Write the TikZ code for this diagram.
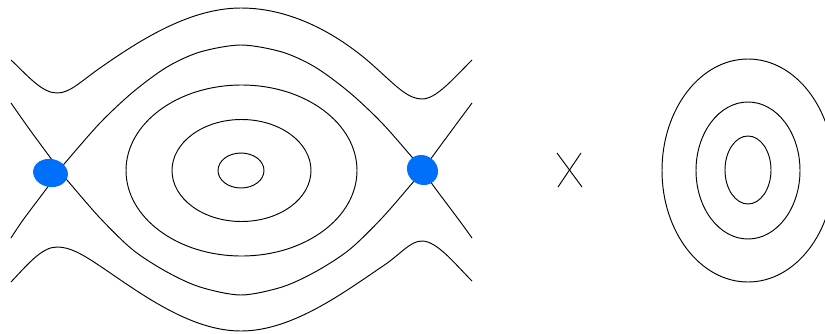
\documentclass[tikz,border=0pt]{standalone}
\definecolor{blobblue}{RGB}{0,112,250}
\begin{document}
\begin{tikzpicture}[x=1pt,y=-1pt,
  orbit/.style={draw=black,line width=0.95pt},
  blob/.style={fill=blobblue,draw=none}]
\useasboundingbox (0,0) rectangle (825,333);
\clip (0,0) rectangle (825,333);
% upper rotating orbit
\draw[orbit] (11,60) .. controls (28,76) and (42,93) .. (57,93)
  .. controls (70,93) and (80,82) .. (100,68)
  .. controls (140,40) and (190,8) .. (241,8)
  .. controls (292,8) and (340,35) .. (376,68)
  .. controls (396,86) and (408,99) .. (422,99)
  .. controls (436,99) and (452,80) .. (472,60);
% lower rotating orbit
\draw[orbit] (11,282) .. controls (28,264) and (42,247) .. (57,247)
  .. controls (70,247) and (82,254) .. (100,266)
  .. controls (140,293) and (190,331) .. (241,331)
  .. controls (292,331) and (343,293) .. (383,266)
  .. controls (401,254) and (410,241) .. (422,241)
  .. controls (437,241) and (455,264) .. (472,281);
% separatrix branch through the bottom
\draw[orbit] plot[smooth,tension=0.5] coordinates {(11,103) (30,130) (52,160) (59,171) (67,180) (100,218) (133,250) (167,272) (200,287) (241,295) (282,287) (315,272) (349,250) (382,218) (415,180) (423,171) (430,160) (452,130) (472,103)};
% separatrix branch through the top
\draw[orbit] plot[smooth,tension=0.5] coordinates {(11,238) (23,220) (47,188) (59,171) (65,163) (100,123) (133,92) (167,67) (200,52) (241,45) (282,52) (315,67) (349,92) (382,123) (417,163) (423,171) (435,188) (459,220) (472,238)};
% closed orbits
\draw[orbit] (241.5,170.5) ellipse [x radius=115.5, y radius=85.5];
\draw[orbit] (241.5,170.5) ellipse [x radius=69.5, y radius=51];
\draw[orbit] (241,170.5) ellipse [x radius=23, y radius=17.5];
% fixed points (blue blobs)
\fill[blob, rotate around={-10:(50.5,173)}] (50.5,173) ellipse [x radius=17.5, y radius=14];
\fill[blob, rotate around={-35:(422.5,170)}] (422.5,170) ellipse [x radius=16, y radius=14.5];
% cross sign
\draw[orbit] (557,153) -- (582,187);
\draw[orbit] (581,153) -- (558,187);
% right nested ellipses
\draw[orbit] (748,170.5) ellipse [x radius=86, y radius=111.5];
\draw[orbit] (748,170.5) ellipse [x radius=52, y radius=68.5];
\draw[orbit] (748,170) ellipse [x radius=23, y radius=34];
\end{tikzpicture}
\end{document}
